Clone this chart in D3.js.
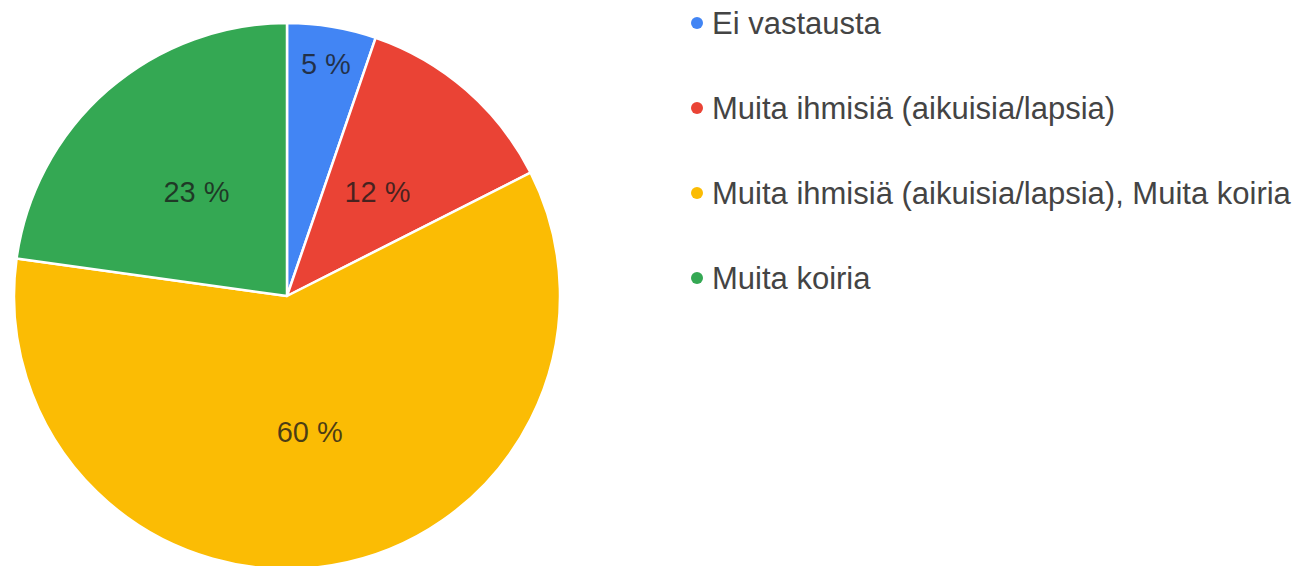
<!DOCTYPE html>
<html><head><meta charset="utf-8">
<script src="https://cdn.jsdelivr.net/npm/d3@7"></script>
<style>body{margin:0;background:#fff}svg{display:block}</style>
</head><body>
<svg id="c" width="1299" height="566"></svg>
<script>
const categories = ["Ei vastausta","Muita ihmisiä (aikuisia/lapsia)","Muita ihmisiä (aikuisia/lapsia), Muita koiria","Muita koiria"];
const values = [3, 7, 34, 13];
const colors = ["#4285F4","#EA4335","#FBBC04","#34A853"];

const svg = d3.select("#c");
const cx = 287, cy = 296, R = 273;
const total = d3.sum(values);
const data = categories.map((c,i)=>({name:c, value:values[i], color:colors[i]}));
const pie = d3.pie().value(d=>d.value).sort(null);
const arcs = pie(data);
const arc = d3.arc().innerRadius(0).outerRadius(R);
const g = svg.append("g").attr("transform",`translate(${cx},${cy})`);
g.selectAll("path").data(arcs).join("path")
  .attr("d",arc).attr("fill",d=>d.data.color)
  .attr("stroke","#fff").attr("stroke-width",2.5).attr("stroke-linejoin","round");
g.selectAll("text").data(arcs).join("text")
  .attr("transform",d=>{
    const span = d.endAngle-d.startAngle;
    const r = span < 0.5 ? R*0.865 : R*0.505;
    const a = (d.startAngle+d.endAngle)/2;
    return `translate(${Math.sin(a)*r},${-Math.cos(a)*r})`;
  })
  .attr("text-anchor","middle").attr("dy","0.36em")
  .attr("font-family","Liberation Sans, Arial, sans-serif").attr("font-size",29)
  .attr("fill","#1a1a1a").attr("fill-opacity",0.78)
  .text(d=>Math.round(d.data.value/total*100)+" %");

const lg = svg.append("g");
const rows = lg.selectAll("g").data(data).join("g")
  .attr("transform",(d,i)=>`translate(697,${23+i*85})`);
rows.append("circle").attr("r",6).attr("fill",d=>d.color);
rows.append("text").attr("x",15).attr("dy","0.36em")
  .attr("font-family","Liberation Sans, Arial, sans-serif").attr("font-size",31)
  .attr("fill","#444")
  .text(d=>d.name);
</script>
</body></html>
